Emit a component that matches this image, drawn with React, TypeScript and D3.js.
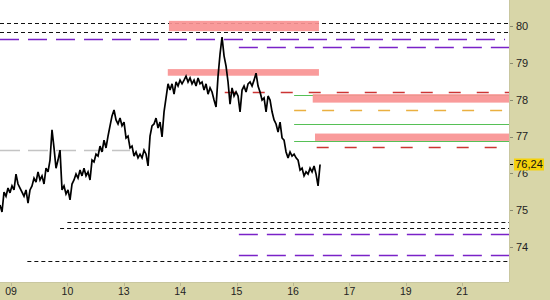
import React from "react";
import * as d3 from "d3";

// ---- data ----
const dayLabels = ["09", "10", "13", "14", "15", "16", "17", "19", "21"];
const yTickValues = [74, 75, 76, 77, 78, 79, 80];
const lastPrice = 76.24;
const lastPriceLabel = "76,24";

// price samples, evenly spaced in time (day index) from seriesStart to seriesEnd
const seriesStart = -0.195;
const seriesEnd = 5.48;
const prices = [
  75.14, 74.95, 75.49, 75.38, 75.6, 75.47, 75.66, 75.55, 75.98, 75.71,
  75.6, 75.49, 75.38, 75.55, 75.19, 75.55, 75.66, 75.87, 75.76, 76.04,
  75.82, 75.93, 75.71, 76.14, 76.04, 76.36, 77.18, 76.69, 76.14, 76.36,
  76.63, 75.55, 75.66, 75.44, 75.55, 75.28, 75.71, 75.82, 75.98, 75.87,
  76.09, 75.93, 76.14, 75.93, 76.04, 75.82, 76.36, 76.31, 76.52, 76.47,
  76.74, 76.58, 76.9, 76.69, 77.01, 77.29, 77.56, 77.72, 77.45, 77.34,
  77.5, 77.29, 77.39, 76.96, 77.01, 76.69, 76.74, 76.47, 76.58, 76.42,
  76.52, 76.42, 76.63, 76.52, 76.2, 77.01, 77.29, 77.34, 77.5, 77.23,
  77.39, 76.99, 77.67, 78.05, 78.43, 78.26, 78.43, 78.15, 78.48, 78.37,
  78.53, 78.43, 78.53, 78.64, 78.48, 78.59, 78.43, 78.53, 78.37, 78.59,
  78.43, 78.48, 78.26, 78.43, 78.15, 78.32, 78.21, 77.99, 77.8, 78.64,
  79.24, 79.7, 79.19, 78.91, 78.48, 77.88, 78.32, 78.1, 78.21, 78.1,
  77.67, 78.26, 78.37, 78.21, 78.43, 78.48, 78.37, 78.53, 78.72, 78.37,
  78.21, 77.99, 78.05, 77.67, 78.1, 77.99, 77.67, 77.45, 77.34, 77.12,
  77.39, 76.96, 76.9, 76.58, 76.42, 76.58, 76.47, 76.52, 76.42, 76.36,
  76.09, 76.14, 75.93, 76.04, 75.98, 76.14, 76.04, 76.2, 75.98, 75.66,
  76.24,
];

// horizontal levels
const levelPrices = [80.07, 79.83, 79.64, 79.43, 78.21, 78.13, 77.71, 77.33, 76.87, 76.72, 76.63, 74.67, 74.51, 74.34, 73.78, 73.63];
const levelFrom = [-0.195, -0.195, -0.195, 4.04, 3.79, 5.02, 5.02, 5.02, 5.02, 5.42, -0.195, 1.0, 0.87, 4.04, 4.04, 0.29];
const levelTo = [8.83, 8.83, 8.76, 8.83, 8.83, 8.83, 8.83, 8.83, 8.83, 8.76, 2.11, 8.83, 8.83, 8.83, 8.83, 8.83];
const levelKinds = ["black", "black", "purple", "purple", "red", "green", "orange", "green", "green", "red", "gray", "black", "black", "purple", "purple", "black"];

// zones (bands)
const zoneHigh = [80.14, 78.83, 78.15, 77.08];
const zoneLow = [79.86, 78.65, 77.92, 76.88];
const zoneFrom = [2.8, 2.78, 5.35, 5.39];
const zoneTo = [5.46, 5.46, 8.83, 8.83];

// ---- styles ----
const W = 550;
const H = 300;
const plotRight = 509;
const plotBottom = 282;
const axisBg = "#d8d6a8";
const zoneColor = "#f89292";
const kindStyle: Record<string, { stroke: string; dash: string; w: number }> = {
  black: { stroke: "#111", dash: "4,3", w: 1 },
  purple: { stroke: "#7a22c8", dash: "19,9", w: 1.5 },
  red: { stroke: "#cc3434", dash: "12,16", w: 1.5 },
  green: { stroke: "#56c056", dash: "", w: 1 },
  orange: { stroke: "#eab040", dash: "12,16", w: 1.5 },
  gray: { stroke: "#c4c4c4", dash: "20,8", w: 1.3 },
};

export default function App() {
  const x = d3.scaleLinear().domain([-0.195, 8.83]).range([0, plotRight]);
  const y = d3.scaleLinear().domain([80, 74]).range([26, 247]);
  const tStep = (seriesEnd - seriesStart) / (prices.length - 1);
  const line = d3
    .line<number>()
    .x((_, i) => x(seriesStart + i * tStep))
    .y((d) => y(d));
  const font = "'Liberation Sans', Arial, sans-serif";
  const py = (p: number) => Math.round(y(p)) + 0.5;

  return (
    <svg width={W} height={H} style={{ position: "absolute", left: 0, top: 0, display: "block" }}>
      <rect x={0} y={0} width={W} height={H} fill={axisBg} />
      <rect x={0} y={0} width={plotRight} height={plotBottom} fill="#fff" />
      <line x1={plotRight + 0.5} x2={plotRight + 0.5} y1={0} y2={plotBottom} stroke="#c9c7a0" />
      <line x1={0} x2={plotRight} y1={plotBottom + 0.5} y2={plotBottom + 0.5} stroke="#c9c7a0" />

      {/* levels under zones */}
      {levelPrices.map((p, i) => {
        const s = kindStyle[levelKinds[i]];
        return (
          <line
            key={"l" + i}
            x1={x(levelFrom[i])}
            x2={x(levelTo[i])}
            y1={py(p)}
            y2={py(p)}
            stroke={s.stroke}
            strokeWidth={s.w}
            strokeDasharray={s.dash || undefined}
          />
        );
      })}

      {zoneHigh.map((h, i) => (
        <rect
          key={"z" + i}
          x={x(zoneFrom[i])}
          y={y(h)}
          width={x(zoneTo[i]) - x(zoneFrom[i])}
          height={y(zoneLow[i]) - y(h)}
          fill={zoneColor}
          fillOpacity={0.92}
        />
      ))}

      {/* price line */}
      <path d={line(prices) || ""} fill="none" stroke="#000" strokeWidth={1.7} strokeLinejoin="miter" strokeMiterlimit={3} />

      {/* right axis */}
      {yTickValues.map((v) => (
        <g key={"y" + v}>
          <line x1={plotRight + 1} x2={plotRight + 4} y1={py(v)} y2={py(v)} stroke="#8a8a70" />
          <text x={516} y={y(v)} dy="0.36em" fontSize={11} fontFamily={font} fill="#222">
            {v}
          </text>
        </g>
      ))}

      {/* bottom axis */}
      {dayLabels.map((d, i) => (
        <g key={"x" + i}>
          <line x1={Math.round(x(i)) + 0.5} x2={Math.round(x(i)) + 0.5} y1={plotBottom + 1} y2={plotBottom + 4} stroke="#b8b690" />
          <text x={x(i)} y={295} textAnchor="middle" fontSize={10.5} fontFamily={font} fill="#222">
            {d}
          </text>
        </g>
      ))}

      {/* last price marker */}
      <line x1={plotRight + 1} x2={plotRight + 4} y1={py(lastPrice)} y2={py(lastPrice)} stroke="#000" />
      <rect x={514} y={y(lastPrice) - 6} width={30} height={12} fill="#f5d20c" />
      <text x={529} y={y(lastPrice)} dy="0.36em" textAnchor="middle" fontSize={11} fontFamily={font} fill="#111">
        {lastPriceLabel}
      </text>
    </svg>
  );
}
